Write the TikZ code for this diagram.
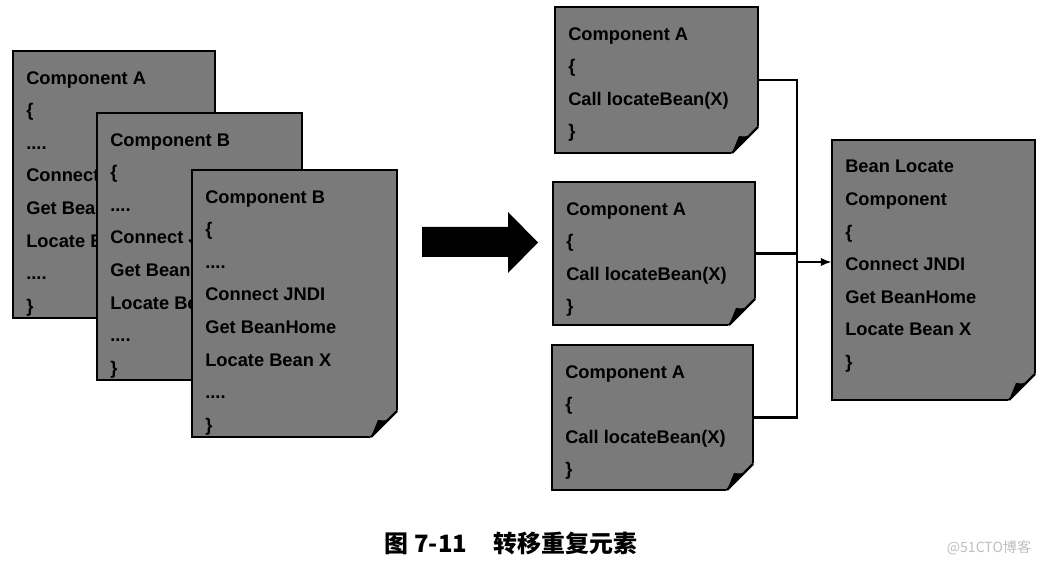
\documentclass[tikz,border=0pt]{standalone}
\usepackage{fontspec}
\setmainfont{Liberation Sans}
\newfontfamily\cjk{Noto Sans CJK SC}
\usepackage{tikz}
\usetikzlibrary{arrows.meta,positioning,calc,fit}
\tikzset{
  page/.style = {rectangle, draw=black, line width=1.6pt, fill=black!52, inner sep=0pt, outer sep=0pt},
  code/.style = {anchor=north west, align=left, inner sep=0pt, font=\bfseries\fontsize{13}{23.2}\selectfont},
  wire/.style = {line width=1.8pt},
}
% dog-eared corner at the bottom right of a page node
\newcommand\foldcorner[1]{
  \fill[white] ($(#1.south east)+(2,-28)$) -- ($(#1.south east)+(2,2)$) -- ($(#1.south east)+(-28,2)$) -- cycle;
  \draw[line width=1.6pt] ($(#1.south east)+(0,-26)$) -- ($(#1.south east)+(-26,0)$);
  \fill[black] ($(#1.south east)+(0,-26)$) .. controls ($(#1.south east)+(-9,-16)$) .. ($(#1.south east)+(-19,-17)$) -- ($(#1.south east)+(-26,0)$) -- cycle;
}

\begin{document}
\begin{tikzpicture}[x=0.025cm,y=-0.025cm]
  \useasboundingbox (0,0) rectangle (1043,563);
  \fill[white] (0,0) rectangle (1043,563);

  % stack of three copies on the left
  \node[page, fit={(13,51) (215,318)}] (a1) {};
  \node[code] (a1t) at (26,71)
    {Component A\\\{\\....\\Connect\\Get Bean\\Locate B\\....\\\}};
  \foldcorner{a1}
  \node[page, fit={(97,113) (302,380)}] (a2) {};
  \node[code] (a2t) at (110,133)
    {Component B\\\{\\....\\Connect J\\Get Bean\\Locate Be\\....\\\}};
  \foldcorner{a2}
  \node[page, fit={(192,170) (397,437)}] (a3) {};
  \node[code] (a3t) at (205,190)
    {Component B\\\{\\....\\Connect JNDI\\Get BeanHome\\Locate Bean X\\....\\\}};
  \foldcorner{a3}

  % big arrow
  \fill[black] (422,227) -- (508,227) -- (508,212) -- (538,242.5) -- (508,273) -- (508,257) -- (422,257) -- cycle;

  % callers
  \foreach \n/\l/\t/\r/\b in {r1/555/7/758/153, r2/553/182/755/325, r3/552/345/753/490}{
    \node[page, fit={(\l,\t) (\r,\b)}] (\n) {};
    \node[code] (\n t) at (\l+13,\t+20) {Component A\\\{\\Call locateBean(X)\\\}};
    \foldcorner{\n}
  }

  % shared locator
  \node[page, fit={(832,140) (1035,400)}] (loc) {};
  \node[code] (loct) at (845,160)
    {Bean Locate\\Component\\\{\\Connect JNDI\\Get BeanHome\\Locate Bean X\\\}};
  \foldcorner{loc}

  \coordinate (jn) at (797,262);
  \draw[wire] (r1.east) -| (jn);
  \draw[wire] (r3.east) -| (jn);
  \draw[wire] (r2.east) -- (r2.east -| jn);
  \draw[wire, -{Latex[length=8pt,width=6pt]}] (jn) -- (jn -| loc.west);

  \node[anchor=west, font=\cjk\bfseries\fontsize{17}{19}\selectfont] (cap) at (380,543)
    {图 7-11\hspace{1.1em}转移重复元素};
  \node[anchor=east, text=black!25, font=\cjk\fontsize{10}{12}\selectfont] (wmark) at (1036,548) {@51CTO博客};
\end{tikzpicture}
\end{document}
